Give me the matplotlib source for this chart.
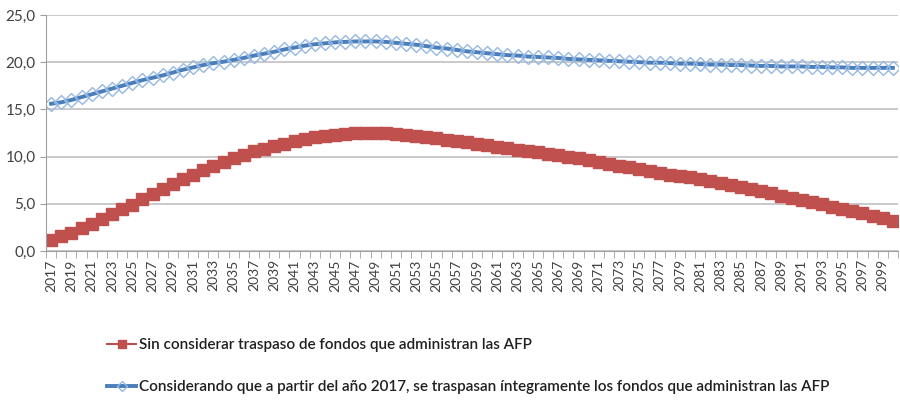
import numpy as np
import matplotlib.pyplot as plt
from matplotlib.ticker import FuncFormatter, FixedLocator

# data
years = list(range(2017, 2101))

sin_traspaso = [
    1.2, 1.55, 1.95, 2.4, 2.85, 3.4, 3.9, 4.45, 4.9, 5.5,
    6.05, 6.55, 7.1, 7.6, 8.1, 8.6, 9.05, 9.45, 9.85, 10.2,
    10.55, 10.85, 11.1, 11.35, 11.6, 11.85, 12.05, 12.2, 12.3, 12.4,
    12.45, 12.5, 12.5, 12.45, 12.4, 12.3, 12.2, 12.1, 11.95, 11.8,
    11.65, 11.5, 11.35, 11.2, 11.05, 10.9, 10.75, 10.6, 10.45, 10.3,
    10.15, 10.0, 9.85, 9.6, 9.4, 9.2, 9.0, 8.9, 8.65, 8.5,
    8.3, 8.1, 7.95, 7.8, 7.6, 7.4, 7.2, 7.0, 6.8, 6.55,
    6.35, 6.1, 5.85, 5.6, 5.4, 5.15, 4.95, 4.7, 4.45, 4.25,
    4.0, 3.75, 3.45, 3.15,
]

con_traspaso = [
    15.6, 15.75, 16.0, 16.3, 16.6, 16.9, 17.2, 17.5, 17.8, 18.1,
    18.35, 18.6, 18.9, 19.2, 19.45, 19.7, 19.9, 20.05, 20.25, 20.45,
    20.7, 20.9, 21.1, 21.35, 21.55, 21.75, 21.9, 22.0, 22.1, 22.15,
    22.2, 22.2, 22.2, 22.15, 22.05, 21.95, 21.85, 21.7, 21.55, 21.45,
    21.3, 21.15, 21.05, 20.95, 20.85, 20.75, 20.7, 20.6, 20.55, 20.5,
    20.45, 20.35, 20.3, 20.25, 20.2, 20.15, 20.1, 20.05, 20.0, 19.95,
    19.95, 19.9, 19.85, 19.85, 19.8, 19.75, 19.75, 19.7, 19.7, 19.65,
    19.6, 19.6, 19.55, 19.55, 19.55, 19.5, 19.5, 19.45, 19.45, 19.4,
    19.4, 19.4, 19.4, 19.4,
]

label_red = "Sin considerar traspaso de fondos que administran las AFP"
label_blue = "Considerando que a partir del año 2017, se traspasan íntegramente los fondos que administran las AFP"

plt.rcParams['font.family'] = ['Lato', 'DejaVu Sans']

fig = plt.figure(figsize=(9, 4.01), dpi=100)
ax = fig.add_axes([46/900, 1 - 251/401, 852/900, 236/401])

pos = np.arange(len(years))
ax.plot(pos, sin_traspaso, color="#c0504d", lw=1.5, marker="s", markersize=8.5,
        markerfacecolor="#c0504d", markeredgecolor="#c0504d", label=label_red)
ax.plot(pos, con_traspaso, color="#4a7ebb", lw=2.8, marker="D", markersize=7.5,
        markerfacecolor="none", markeredgecolor="#95b8e3", markeredgewidth=1.0,
        label=label_blue)

ax.set_xlim(-0.5, len(years) - 0.5)
ax.set_ylim(0, 25)
ax.set_yticks([0, 5, 10, 15, 20, 25])
ax.yaxis.set_major_formatter(FuncFormatter(lambda v, p: f"{v:.1f}".replace(".", ",")))
ax.grid(axis="y", color="#c0c0c0", lw=1.2)
ax.set_axisbelow(True)

ax.set_xticks(pos[::2])
ax.set_xticklabels([str(y) for y in years[::2]], rotation=90)
ax.xaxis.set_minor_locator(FixedLocator(np.arange(-0.5, len(years), 1)))
ax.tick_params(axis="x", which="major", length=0, pad=6, labelsize=10, colors="#404040")
ax.tick_params(axis="x", which="minor", length=5, color="#a0a0a0")
ax.tick_params(axis="y", length=4, color="#a0a0a0", labelsize=11, labelcolor="#404040")

for s in ["top", "right"]:
    ax.spines[s].set_visible(False)
for s in ["left", "bottom"]:
    ax.spines[s].set_color("#a0a0a0")

leg = fig.legend(loc="upper left", bbox_to_anchor=(107/900, 1 - 338/401), frameon=False,
                 fontsize=11, handlelength=1.9, handletextpad=0.2, labelspacing=1.85,
                 markerscale=0.7, borderaxespad=0, borderpad=0)
for t in leg.get_texts():
    t.set_color("#202020")
    t.set_fontweight("semibold")

fig.savefig("out.png", dpi=100)
